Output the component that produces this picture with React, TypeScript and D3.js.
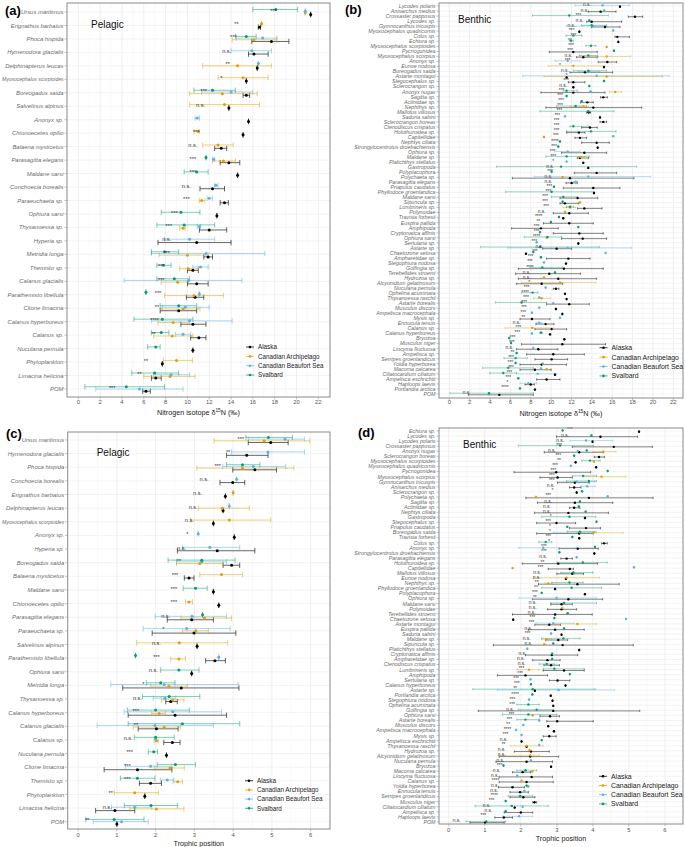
import React from "react";
import * as d3 from "d3";

type Est = number[] | null;
// [species, significance, label x (data units), Alaska, Canadian Archipelago, Canadian Beaufort Sea, Svalbard]
// each estimate: [mean] or [mean, lower, upper]
type Row = [string, string, number, Est, Est, Est, Est];

const regions = ["Alaska", "Canadian Archipelago", "Canadian Beaufort Sea", "Svalbard"];
const regionColors = ["#000000", "#E69F00", "#56B4E9", "#009E73"];
const nitrogenTicks = [0, 2, 4, 6, 8, 10, 12, 14, 16, 18, 20, 22];
const nitrogenMinor = [1, 3, 5, 7, 9, 11, 13, 15, 17, 19, 21];
const trophicTicks = [0, 1, 2, 3, 4, 5, 6];
const trophicMinor = [0.5, 1.5, 2.5, 3.5, 4.5, 5.5];

const pelagicN: Row[] = [
  ["Ursus maritimus", "***", 17.9, [21.3], [20.8], [20.8], [18.1, 16.0, 20.1]],
  ["Erignathus barbatus", "**", 14.5, [16.6, 16.5, 16.7], [16.8], null, null],
  ["Phoca hispida", "***", 14.2, [17.7, 15.9, 19.3], [16.1, 14.1, 18.2], [16.9, 14.5, 18.2], [15.4, 14.4, 16.3]],
  ["Hymenodora glacialis", "n.s.", 13.6, [16.1, 15.6, 17.4], null, [15.9, 14.0, 17.7], null],
  ["Delphinapterus leucas", "**", 13.7, [16.4], [14.6, 11.4, 17.7], [16.5], null],
  ["Myoxocephalus scorpioides", "*", 13.1, [15.4], [15.1, 12.8, 17.4], null, null],
  ["Boreogadus saida", "***", 11.5, [15.4, 15.1, 15.7], [13.2, 10.2, 16.4], [14.0, 11.3, 16.0], [12.3, 10.6, 14.4]],
  ["Salvelinus alpinus", "n.s.", 11.2, [13.8], [13.4, 10.2, 16.6], null, null],
  ["Anonyx sp.", "", 0, [15.6], null, [10.9, 10.7, 11.1], null],
  ["Chionoecetes opilio", "***", 10.8, [15.1], [11.0, 10.6, 11.1], null, null],
  ["Balaena mysticetus", "n.s.", 10.5, [13.1, 12.5, 13.6], [12.8, 11.4, 14.2], null, null],
  ["Parasagitta elegans", "***", 10.5, [13.8, 13.0, 14.8], [13.3, 12.3, 14.4], [12.4, 12.3, 12.5], [11.7]],
  ["Maldane sarsi", "***", 10.5, [14.6], null, null, [10.85, 9.7, 11.9]],
  ["Conchoecia borealis", "n.s.", 9.9, [12.3, 11.15, 13.4], null, [12.6, 12.5, 12.8], null],
  ["Paraeuchaeta sp.", "***", 9.9, [13.4, 13.0, 13.75], [11.3, 11.1, 11.6], [12.0, 11.8, 12.3], null],
  ["Ophiura sarsi", "***", 8.8, [12.7], null, null, [9.4, 7.6, 11.15]],
  ["Thysanoessa sp.", "***", 8.3, [12.0, 11.1, 13.6], [9.6, 9.3, 9.8], [11.1, 10.9, 11.2], [9.7, 7.2, 12.5]],
  ["Hyperia sp.", "n.s.", 8.1, [10.85, 7.3, 14.0], null, [10.2, 7.9, 12.5], null],
  ["Metridia longa", "***", 8.1, [11.9, 11.5, 12.3], [10.0, 7.4, 11.9], [11.7, 6.7, 17.1], [7.9, 6.7, 9.2]],
  ["Themisto sp.", "***", 7.6, [10.5, 10.0, 11.0], [10.1, 9.3, 11.0], [11.2, 10.5, 11.9], [7.8, 7.2, 8.5]],
  ["Calanus glacialis", "***", 7.6, [10.85, 10.0, 11.9], [9.1, 7.6, 10.1], [10.1, 4.2, 15.0], [8.8, 7.2, 10.2]],
  ["Parathemisto libellula", "***", 7.3, [10.7, 9.9, 11.5], [10.6, 7.9, 13.3], [11.1], [6.2]],
  ["Clione limacina", "**", 7.2, [9.2, 7.5, 10.85], [9.6, 7.6, 11.15], [9.8, 7.7, 12.0], [9.2, 7.5, 10.85]],
  ["Calanus hyperboreus", "****", 7.0, [10.5, 9.4, 11.7], [8.7, 7.3, 10.2], [10.2, 6.7, 14.1], [7.7, 5.1, 10.5]],
  ["Calanus sp.", "**", 6.9, [11.05, 10.3, 11.7], [8.6, 6.9, 10.5], [9.6, 8.9, 10.3], [7.6, 6.7, 8.3]],
  ["Nuculana pernula", "", 0, [10.5], null, null, [7.1, 6.35, 7.5]],
  ["Phytoplankton", "**", 6.2, [7.7], [9.0, 7.8, 10.45], null, null],
  ["Limacina helicina", "**", 5.6, [7.1, 6.7, 7.6], [8.4, 6.0, 10.7], [8.5, 6.9, 10.2], [7.0, 4.9, 9.2]],
  ["POM", "***", 3.1, [6.2, 5.9, 6.6], null, [5.6, 1.6, 9.6], [4.4, 0.6, 7.9]],
];

const benthicN: Row[] = [
  ["Lycodes polaris", "n.s.", 13.5, [16.76], null, [15.06, 12.34, 17.68], null],
  ["Anisarchus medius", "n.s.", 13.3, [14.86, 13.65, 16.37], null, [15.22], null],
  ["Crossaster papposus", "***", 12.67, [18.23, 17.58, 18.99], null, null, [11.78, 8.18, 15.61]],
  ["Lycodes sp.", "n.s.", 12.8, [13.98, 13.49, 16.92], null, null, [13.75]],
  ["Gymnocanthus tricuspis", "n.s.", 12.0, [15.29, 13.98, 16.76], null, [14.14, 11.52, 15.45], [13.98, 13.0, 15.45]],
  ["Myoxocephalus quadricornis", "***", 12.0, [12.77], null, [16.1], null],
  ["Colus sp.", "***", 12.18, [16.5, 16.27, 17.68], null, null, [12.18, 11.46, 13.0]],
  ["Echiura sp.", "**", 11.85, [16.6], null, null, [11.95, 11.78, 12.18]],
  ["Myoxocephalus scorpioides", "***", 11.95, null, [15.45], null, [13.91, 13.42, 14.4]],
  ["Pycnogonidea", "***", 11.85, [12.18, 9.82, 14.53], null, null, [16.17]],
  ["Myoxocephalus scorpius", "n.s.", 11.7, [13.16, 12.5, 14.53], [15.45, 12.83, 17.81], null, [13.65, 12.77, 14.57]],
  ["Anonyx sp.", "***", 11.62, [15.52, 14.63, 16.43], null, [11.62, 10.38, 12.83], null],
  ["Eunoe nodosa", "*", 10.87, [15.19], [12.18, 9.72, 15.29], null, null],
  ["Boreogadus saida", "n.s.", 11.36, [13.32, 11.85, 16.04], null, [13.75, 12.67, 14.73], [13.65, 12.18, 15.45]],
  ["Astarte montagui", "*", 11.52, [11.52], [15.45, 9.3, 20.95], [14.47, 7.2, 21.6], null],
  ["Stegocephalus sp.", "***", 11.46, [12.18, 11.69, 13.32], null, null, [15.19]],
  ["Sclerocrangon sp.", "n.s.", 11.19, [12.18], null, null, [13.75]],
  ["Anonyx nugax", "***", 11.03, [12.18, 9.0, 15.29], [16.3, 15.71, 16.92], [13.88], [11.52, 11.19, 12.57]],
  ["Sagitta sp.", "***", 10.87, [15.12, 14.86, 15.52], null, null, [11.52]],
  ["Actiniidae sp.", "***", 10.97, [13.55, 12.9, 14.14], null, null, [13.0]],
  ["Nephthys sp.", "***", 10.87, [14.14, 9.49, 18.89], [13.16, 11.85, 13.68], null, [12.41, 10.54, 13.49]],
  ["Mallotus villosus", "***", 10.8, [13.68, 13.49, 13.88], null, null, [13.65, 8.9, 16.17]],
  ["Saduria sabini", "***", 10.6, [14.8], null, [11.36], null],
  ["Sclerocrangon boreas", "***", 10.54, [15.12, 14.8, 15.45], null, null, null],
  ["Ctenodiscus crispatus", "***", 10.54, [13.82, 13.0, 14.53], null, null, [12.18, 11.85, 13.65]],
  ["Holothuroidea sp.", "***", 10.54, [12.73, 11.52, 13.32], null, null, [13.91, 11.52, 16.37]],
  ["Capitellidae", "***", 10.47, [12.83, 12.34, 13.49], [9.3], [16.1], null],
  ["Nephtys ciliata", "****", 10.38, [14.47, 13.0, 15.71], null, null, [10.87]],
  ["Strongylocentrotus droebachiensis", "***", 10.28, [14.57], null, null, [10.7]],
  ["Ophiura sp.", "***", 10.15, [13.26, 11.03, 15.45], null, [11.62, 10.38, 12.83], null],
  ["Maldane sp.", "***", 10.21, [12.83, 12.57, 13.68], [12.9, 12.6, 13.3], null, [11.52, 9.49, 13.75]],
  ["Platichthys stellatus", "*", 10.21, [13.16], null, [11.52], null],
  ["Gastropoda", "n.s.", 9.89, [13.65], null, null, [10.97, 4.65, 18.4]],
  ["Polyplacophora", "***", 9.89, [14.47, 12.27, 16.43], null, null, [10.05]],
  ["Polychaeta sp.", "n.s.", 9.72, [11.85, 6.19, 18.13], [11.13], [13.65, 8.35, 19.77], null],
  ["Parasagitta elegans", "n.s.", 9.72, [12.01, 11.46, 12.57], null, [12.41, 12.18, 12.6], null],
  ["Priapulus caudatus", "***", 9.82, [14.14, 11.19, 16.76], null, null, [10.28]],
  ["Phyllodoce groenlandica", "***", 9.72, [14.21], null, null, [10.05, 5.53, 14.21]],
  ["Maldane sarsi", "***", 9.4, [12.6, 10.87, 14.57], null, null, [11.19, 10.05, 12.6]],
  ["Sipuncula sp.", "***", 9.4, [11.36, 10.87, 12.67], [12.83], null, [11.13]],
  ["Lumbrineris sp.", "***", 9.5, [13.26, 12.6, 15.0], [11.85, 11.19, 12.41], null, [11.85, 11.5, 12.2]],
  ["Polynoidae", "n.s.", 9.07, [11.78, 10.21, 13.65], [11.36], null, null],
  ["Travisia forbesii", "****", 8.78, [11.19], null, null, [10.77]],
  ["Euspira pallida", "**", 8.74, [11.78, 9.24, 14.14], null, null, [9.98]],
  ["Amphipoda", "***", 8.58, [9.0, 6.12, 10.7], null, null, [12.67]],
  ["Cryptonatica affinis", "***", 8.58, [12.77, 10.21, 15.12], null, null, [8.9]],
  ["Ophiura sarsi", "****", 8.58, [13.1, 11.03, 15.45], [9.56], null, [9.65, 7.36, 11.03]],
  ["Sertularia sp.", "***", 8.35, [12.67], null, [8.58], null],
  ["Astarte sp.", "n.s.", 8.84, [10.54, 9.17, 12.01], null, [11.62, 5.79, 17.9], [8.9, 3.08, 14.73]],
  ["Chaetozone setosa", "***", 8.41, [7.53], null, [15.35], [8.25]],
  ["Ampharetidae sp.", "***", 7.99, [11.69, 9.56, 13.82], null, null, [9.0]],
  ["Stegophiura nodosa", "***", 7.92, [11.46], null, [9.3], null],
  ["Golfingia sp.", "****", 7.92, [11.26, 6.78, 15.12], null, null, [9.13, 7.92, 11.13]],
  ["Terebellides stroemi", "n.s.", 7.59, [9.82, 6.51, 12.9], null, null, [10.38]],
  ["Hydrozoa sp.", "n.s.", 7.59, [10.7, 6.78, 14.47], [9.3], null, null],
  ["Alcyonidium gelatinosum", "*", 7.85, [9.07, 6.61, 11.13], [10.87, 7.1, 14.4], null, null],
  ["Nuculana pernula", "***", 7.59, [10.47, 10.21, 10.77], null, [9.46], null],
  ["Ophelina acuminata", "****", 7.46, [11.36], null, null, [8.18, 7.1, 8.71]],
  ["Thysanoessa raschii", "***", 7.53, [11.52], [9.07, 8.25, 9.89], [8.84], null],
  ["Astarte borealis", "***", 7.36, [11.78, 9.56, 13.75], null, [10.21], [7.1, 4.55, 9.56]],
  ["Musculus discors", "***", 7.33, [10.47], null, [8.84], null],
  ["Ampelisca macrocephala", "***", 7.27, [11.1], null, [8.12], null],
  ["Mysis sp.", "**", 7.27, [8.12, 6.94, 9.89], null, [10.87], null],
  ["Ennucula tenuis", "n.s.", 6.61, [9.46, 8.51, 10.28], null, [8.84, 8.6, 9.1], null],
  ["Calanus sp.", "***", 6.78, [10.05, 8.41, 11.52], [8.15, 5.47, 10.21], null, null],
  ["Calanus hyperboreus", "***", 6.68, [9.89], null, [8.12], [9.0, 8.9, 9.13]],
  ["Bryozoa", "***", 6.22, [11.3], null, null, [5.89]],
  ["Musculus niger", "***", 6.15, [11.1, 7.1, 15.35], null, null, [6.06]],
  ["Liocyma fluctuosa", "n.s.", 5.89, [8.74, 6.61, 10.67], null, [8.25], null],
  ["Ampelisca sp.", "**", 6.22, [10.21, 7.59, 13.26], null, null, [6.61]],
  ["Serripes groenlandicus", "***", 6.06, [10.05, 8.41, 11.62], null, null, [6.51, 5.37, 7.66]],
  ["Yoldia hyperborea", "***", 6.0, [9.07, 6.94, 11.52], null, [9.2], [6.51]],
  ["Macoma calcarea", "***", 6.06, [8.41, 6.94, 10.0], [9.56], [9.0], [5.79, 3.27, 8.25]],
  ["Ciliatocardium ciliatum", "***", 5.89, [10.38], null, [8.68, 6.61, 10.54], [5.3, 3.99, 6.61]],
  ["Ampelisca eschrichtii", "***", 5.79, [9.56, 8.58, 10.87], null, null, [6.78]],
  ["Haploops laevis", "*", 5.7, [7.99, 7.43, 8.35], null, [7.76, 6.94, 8.58], null],
  ["Portlandia arctica", "****", 5.47, [8.41], null, null, [6.94]],
  ["POM", "n.s.", 1.7, [4.91, 1.87, 8.25], null, [3.9], [3.9, 0.07, 8.25]],
];

const pelagicTP: Row[] = [
  ["Ursus maritimus", "***", 4.2, [4.97, 4.39, 5.42], [4.8, 3.51, 5.98], [5.34, 4.39, 5.84], [4.91, 4.33, 5.53]],
  ["Hymenodora glacialis", "**", 3.87, [4.35, 3.83, 4.9], null, [4.9, 3.96, 5.84], null],
  ["Phoca hispida", "***", 3.6, [4.56, 3.99, 5.12], [4.24, 3.06, 5.57], [4.52, 3.73, 5.36], [4.24, 3.83, 4.69]],
  ["Conchoecia borealis", "n.s.", 3.25, [3.99, 3.66, 4.3], null, [4.09], null],
  ["Erignathus barbatus", "n.s.", 3.08, [3.8], [4.0], null, null],
  ["Delphinapterus leucas", "n.s.", 2.97, [3.74], [3.72, 3.1, 4.42], [3.9], null],
  ["Myoxocephalus scorpioides", "n.s.", 2.87, [3.49], [3.9, 2.91, 4.97], null, null],
  ["Anonyx sp.", "*", 2.82, [4.03], null, [3.1], null],
  ["Hyperia sp.", "n.s.", 2.67, [3.59, 2.56, 4.56], null, [3.4, 2.69, 4.17], null],
  ["Boreogadus saida", "**", 2.6, [3.96, 3.74, 4.17], [3.14, 2.54, 3.74], [3.19, 2.54, 3.83], [3.19, 2.32, 4.05]],
  ["Balaena mysticetus", "***", 2.5, [2.86, 2.74, 2.99], [3.7, 3.14, 4.24], null, null],
  ["Maldane sarsi", "***", 2.47, [3.49], null, null, [3.03, 2.71, 3.33]],
  ["Chionoecetes opilio", "***", 2.47, [3.63], [2.86, 2.77, 2.95], null, null],
  ["Parasagitta elegans", "n.s.", 2.26, [2.93, 2.3, 3.49], [3.26, 2.65, 3.96], [2.94, 1.99, 3.83], [3.21]],
  ["Paraeuchaeta sp.", "*", 2.2, [2.99, 1.91, 4.07], [3.04, 2.69, 3.36], [2.8, 1.68, 3.92], null],
  ["Salvelinus alpinus", "n.s.", 2.02, [3.07], [2.61, 1.51, 3.86], null, null],
  ["Parathemisto libellula", "***", 2.02, [3.53, 3.29, 3.8], [2.6, 2.39, 2.77], [3.63], [1.48]],
  ["Ophiura sarsi", "n.s.", 1.94, [2.93], null, null, [2.6, 2.13, 3.12]],
  ["Metridia longa", "*", 1.68, [2.66, 1.15, 4.15], [2.34, 1.87, 2.82], [2.22, 0.84, 4.13], [2.13, 1.76, 2.5]],
  ["Thysanoessa sp.", "n.s.", 1.53, [2.39, 2.26, 2.56], [2.44, 2.15, 2.73], [2.24, 1.94, 2.52], [2.35, 1.66, 3.14]],
  ["Calanus hyperboreus", "***", 1.49, [2.5, 1.29, 3.83], [2.09, 1.9, 2.25], [2.44, 1.19, 3.7], [2.0, 1.27, 2.87]],
  ["Calanus glacialis", "**", 1.49, [2.02, 1.55, 2.58], [2.22, 1.42, 2.64], [1.98, 0.49, 3.49], [2.69, 1.29, 4.17]],
  ["Calanus sp.", "n.s.", 1.29, [2.43, 2.21, 2.63], [2.02, 1.96, 2.07], [2.0], [2.0, 1.45, 2.48]],
  ["Nuculana pernula", "***", 1.33, [2.28], null, null, [1.95, 1.81, 2.05]],
  ["Clione limacina", "***", 1.27, [1.53, 0.67, 2.42], [2.37, 1.96, 2.74], [1.87, 1.22, 2.42], [2.51, 2.04, 3.03]],
  ["Themisto sp.", "***", 1.27, [1.87, 1.58, 2.15], [2.57, 2.45, 2.69], [2.3, 2.13, 2.47], [1.53, 1.09, 1.98]],
  ["Phytoplankton", "**", 0.84, [1.72], [1.46, 0.93, 2.07], null, null],
  ["Limacina helicina", "n.s.", 0.75, [0.95, 0.45, 1.46], [2.02, 1.33, 2.73], [1.46, 0.86, 1.9], [1.88, 1.19, 2.56]],
  ["POM", "**", 0.23, [1.0], null, [1.12, 0.39, 1.81], [0.93, 0.2, 1.7]],
];

const benthicTP: Row[] = [
  ["Echiura sp.", "***", 3.36, [5.28], null, null, [3.16]],
  ["Lycodes sp.", "n.s.", 3.23, [4.21, 2.99, 5.24], null, null, [3.96]],
  ["Lycodes polaris", "n.s.", 3.09, [3.99], null, [3.81, 3.36, 4.55], null],
  ["Crossaster papposus", "***", 3.06, [4.58, 3.43, 5.65], null, null, [3.09, 1.93, 4.01]],
  ["Anonyx nugax", "n.s.", 2.86, [3.62, 2.65, 4.29], [4.29, 4.01, 4.64], [3.58], [3.83]],
  ["Sclerocrangon boreas", "***", 3.04, [4.17, 4.04, 4.32], null, null, [3.48]],
  ["Myoxocephalus scorpioides", "**", 3.06, [3.52], [4.03], null, [3.92, 3.69, 4.2]],
  ["Myoxocephalus quadricornis", "***", 2.95, [4.09], null, [3.39], null],
  ["Pycnogonidea", "***", 2.9, [2.98, 1.81, 3.94], null, null, [4.41]],
  ["Myoxocephalus scorpius", "***", 2.86, [3.02, 2.53, 3.43], [4.24, 3.73, 4.91], null, [3.73, 3.43, 4.1]],
  ["Gymnocanthus tricuspis", "***", 2.86, [3.5, 3.02, 3.9], null, [3.55, 3.06, 4.06], [3.89, 3.27, 4.1]],
  ["Anisarchus medius", "n.s.", 2.83, [3.48, 3.35, 3.67], null, [3.84, 3.67, 4.06], null],
  ["Sclerocrangon sp.", "*", 2.88, [3.55], null, null, [3.7]],
  ["Polychaeta sp.", "***", 2.76, [3.89, 2.14, 5.67], [2.42], [4.41], null],
  ["Sagitta sp.", "n.s.", 2.76, [3.5, 2.46, 4.55], null, null, [3.64]],
  ["Actiniidae sp.", "n.s.", 2.72, [3.48, 3.35, 3.64], null, null, [3.61]],
  ["Nephtys ciliata", "n.s.", 2.72, [3.32, 2.38, 4.43], null, null, [3.8]],
  ["Gastropoda", "*", 2.83, [3.78], null, null, [3.35, 2.58, 4.08]],
  ["Stegocephalus sp.", "***", 2.76, [2.99, 2.44, 3.52], null, null, [4.1]],
  ["Priapulus caudatus", "*", 2.81, [3.81, 3.35, 4.21], null, null, [3.29]],
  ["Boreogadus saida", "*", 2.81, [3.62, 2.44, 4.01], [4.01, 3.55, 4.84], [3.64, 2.9, 4.1], [3.64, 3.29, 4.06]],
  ["Travisia forbesii", "***", 2.76, [3.62], null, null, [3.43]],
  ["Colus sp.", "*", 2.79, [4.31, 4.24, 4.4], null, null, [2.69, 2.5, 2.86]],
  ["Anonyx sp.", "***", 2.64, [3.58, 3.06, 4.15], null, [2.62, 1.95, 4.06], [4.06]],
  ["Strongylocentrotus droebachiensis", "***", 2.64, [4.04], null, null, [3.07]],
  ["Parasagitta elegans", "n.s.", 2.62, [3.27, 3.11, 3.43], null, [3.55], null],
  ["Holothuroidea sp.", "**", 2.6, [3.04, 2.04, 4.13], null, null, [3.72, 3.0, 4.4]],
  ["Capitellidae", "***", 2.55, [3.36, 2.76, 3.46], [1.77], [5.14], null],
  ["Mallotus villosus", "n.s.", 2.45, [3.43, 3.0, 3.74], null, null, [3.46, 3.11, 4.0]],
  ["Eunoe nodosa", "n.s.", 2.44, [3.25], [3.27, 2.35, 4.18], null, null],
  ["Nephthys sp.", "**", 2.44, [3.57, 2.49, 4.73], [2.76, 2.67, 2.86], null, [3.35, 2.86, 3.73]],
  ["Phyllodoce groenlandica", "**", 2.42, [2.95], null, null, [3.41, 2.58, 4.24]],
  ["Polyplacophora", "***", 2.39, [3.78], null, null, [2.58]],
  ["Ophiura sp.", "**", 2.39, [3.32, 2.32, 4.27], null, [2.99, 1.95, 4.09], null],
  ["Maldane sarsi", "n.s.", 2.33, [3.13, 2.83, 3.43], null, null, [3.2, 2.83, 4.1]],
  ["Polynoidae", "n.s.", 2.33, [3.13, 2.74, 3.55], [3.15], null, null],
  ["Terebellides stroemi", "n.s.", 2.3, [2.95, 1.77, 3.98], null, null, [3.3]],
  ["Chaetozone setosa", "***", 2.32, [1.79], null, [4.92], [2.93]],
  ["Astarte montagui", "***", 2.3, [2.79, 2.39, 3.1], [3.57, 2.9, 4.1], [2.9, 2.42, 3.46], null],
  ["Euspira pallida", "n.s.", 2.21, [2.95, 2.21, 3.76], null, null, [3.2]],
  ["Saduria sabini", "***", 2.19, [3.13], null, [2.84], null],
  ["Maldane sp.", "n.s.", 2.16, [3.04, 2.69, 3.3], [2.72, 2.58, 2.86], null, [3.18, 2.58, 3.64]],
  ["Sipuncula sp.", "n.s.", 2.21, [3.16, 1.24, 5.12], [2.65], null, [2.9]],
  ["Platichthys stellatus", "", 0, [3.62], null, [2.18], null],
  ["Cryptonatica affinis", "n.s.", 2.04, [2.86, 2.13, 3.58], null, null, [2.87]],
  ["Ampharetidae sp.", "n.s.", 2.0, [2.74, 2.33, 3.09], null, null, [2.87]],
  ["Ctenodiscus crispatus", "n.s.", 2.02, [2.84, 2.64, 3.07], null, null, [2.72, 2.51, 2.93]],
  ["Lumbrineris sp.", "***", 2.02, [3.2, 2.62, 3.76], [2.23, 1.89, 2.51], null, [2.93, 2.62, 3.76]],
  ["Amphipoda", "***", 1.98, [2.13, 1.35, 2.74], null, null, [3.36]],
  ["Sertularia sp.", "***", 1.87, [3.02, 2.79, 3.36], null, [2.27], null],
  ["Calanus hyperboreus", "***", 1.89, [3.24], null, null, [2.28]],
  ["Astarte sp.", "**", 1.84, [2.39], null, [3.05, 1.35, 4.59], [2.33, 0.67, 4.06]],
  ["Portlandia arctica", "****", 1.84, [2.83], null, null, [2.32]],
  ["Stegophiura nodosa", "***", 1.77, [2.88], null, [2.23], null],
  ["Ophelina acuminata", "***", 1.76, [2.9], null, null, [2.21, 1.89, 2.51]],
  ["Golfingia sp.", "n.s.", 1.7, [2.9, 0.82, 5.3], null, null, [2.44, 1.93, 2.9]],
  ["Ophiura sarsi", "***", 1.74, [2.81, 2.53, 3.07], [2.33], null, [2.21, 1.49, 3.0]],
  ["Astarte borealis", "***", 1.68, [3.01, 2.72, 4.01], null, [2.51], [2.13, 1.89, 2.51]],
  ["Musculus discors", "**", 1.65, [2.76], null, [2.07], null],
  ["Ampelisca macrocephala", "****", 1.63, [2.92], null, [1.87], null],
  ["Mysis sp.", "***", 1.58, [2.79, 2.62, 2.98], null, [2.02], null],
  ["Ampelisca eschrichtii", "n.s.", 1.52, [2.02], null, null, [2.58]],
  ["Thysanoessa raschii", "**", 1.52, [2.16], [2.16, 1.72, 2.62], [2.51], null],
  ["Hydrozoa sp.", "n.s.", 1.47, [2.28, 1.82, 2.79], [2.24], null, null],
  ["Alcyonidium gelatinosum", "n.s.", 1.47, [2.26, 1.4, 3.05], [2.26, 1.4, 2.51], null, null],
  ["Nuculana pernula", "n.s.", 1.43, [2.16, 1.31, 2.88], null, [2.28], null],
  ["Bryozoa", "***", 1.41, [2.84], null, null, [1.52]],
  ["Macoma calcarea", "n.s.", 1.33, [2.05, 1.77, 2.27], [2.32], [2.13], [2.13, 1.89, 2.44]],
  ["Liocyma fluctuosa", "n.s.", 1.28, [2.3, 1.4, 2.88], null, [1.9], null],
  ["Calanus sp.", "****", 1.3, [2.16, 1.4, 2.9], [2.02], null, null],
  ["Yoldia hyperborea", "n.s.", 1.28, [1.77, 1.38, 2.1], null, [2.21], [2.16]],
  ["Ennucula tenuis", "n.s.", 1.26, [1.98, 1.7, 2.21], null, [2.1], null],
  ["Serripes groenlandicus", "****", 1.26, [2.07, 1.7, 2.39], null, null, [1.98, 1.65, 2.33]],
  ["Musculus niger", "***", 1.19, [2.38, 2.33, 2.44], null, null, [1.58]],
  ["Ciliatocardium ciliatum", "n.s.", 1.05, [1.83], null, [2.05], [1.75, 0.73, 2.76]],
  ["Ampelisca sp.", "n.s.", 1.1, [2.0, 1.54, 2.33], null, null, [1.58]],
  ["Haploops laevis", "***", 0.96, [1.53, 1.28, 1.77], null, [1.95, 1.5, 2.33], null],
  ["POM", "n.s.", 0.22, [1.01, 0.59, 1.54], null, null, [1.04, 0.48, 1.58]],
];

const FONT = "'Liberation Sans', Arial, Helvetica, sans-serif";

type PanelCfg = {
  rows: Row[];
  px: [number, number];
  py: [number, number];
  rowsY: [number, number];
  domain: [number, number];
  ticks: number[];
  minor: number[];
  tickLabelY: number;
  titleY: number;
  isotope: boolean;
  letter: string;
  letterPos: [number, number];
  habitat: string;
  habitatPos: [number, number];
  legendX: number;
  legendY: number;
  legendStep: number;
  legendFont: number;
  labelFont: number;
  sigFont: number;
  pointR: number;
  barW: number;
};

function Panel({ c }: { c: PanelCfg }) {
  const x = d3.scaleLinear().domain(c.domain).range(c.px);
  const idx = c.rows.map((_, i) => String(i));
  const y = d3.scalePoint<string>().domain(idx).range(c.rowsY);
  const step = y.step();
  const dodgeW = 0.5 * step;
  const capH = Math.max(0.4 * step, 2.4);
  const [x0, x1] = c.px;
  const [y0, y1] = c.py;
  const labelRoom = x0 - 4.5;

  const marks: React.ReactNode[] = [];
  const points: React.ReactNode[] = [];
  c.rows.forEach((r, i) => {
    const cy = y(String(i)) as number;
    const present = [3, 4, 5, 6].map((k, g) => ({ g, e: r[k] as Est })).filter((d) => d.e);
    const n = present.length;
    present.forEach((d, j) => {
      const off = ((j + 0.5) / n - 0.5) * dodgeW;
      const yy = cy - off;
      const e = d.e as number[];
      const m = e[0];
      const lo = e.length > 1 ? e[1] : m;
      const hi = e.length > 1 ? e[2] : m;
      const col = regionColors[d.g];
      marks.push(
        <g key={`e${i}-${d.g}`} stroke={col} strokeOpacity={d.g === 0 ? 0.6 : 0.5} strokeWidth={c.barW}>
          <line x1={x(lo)} x2={x(hi)} y1={yy} y2={yy} />
          <line x1={x(lo)} x2={x(lo)} y1={yy - capH / 2} y2={yy + capH / 2} />
          <line x1={x(hi)} x2={x(hi)} y1={yy - capH / 2} y2={yy + capH / 2} />
        </g>
      );
      points.push(<circle key={`p${i}-${d.g}`} cx={x(m)} cy={yy} r={c.pointR} fill={col} />);
    });
  });

  return (
    <g fontFamily={FONT}>
      <rect x={x0} y={y0} width={x1 - x0} height={y1 - y0} fill="#fff" />
      {c.minor.map((t) => (
        <line key={`mn${t}`} x1={x(t)} x2={x(t)} y1={y0} y2={y1} stroke="#F2F2F2" strokeWidth={0.5} />
      ))}
      {c.ticks.map((t) => (
        <line key={`mj${t}`} x1={x(t)} x2={x(t)} y1={y0} y2={y1} stroke="#EBEBEB" strokeWidth={0.8} />
      ))}
      {idx.map((k) => (
        <line key={`h${k}`} x1={x0} x2={x1} y1={y(k)} y2={y(k)} stroke="#EBEBEB" strokeWidth={0.6} />
      ))}
      {marks}
      {points}
      {c.rows.map((r, i) =>
        r[1] ? (
          <text
            key={`s${i}`}
            x={x(r[2])}
            y={(y(String(i)) as number) + c.sigFont * 0.1}
            fontSize={c.sigFont}
            textAnchor="middle"
            fill="#333"
          >
            {r[1]}
          </text>
        ) : null
      )}
      <rect x={x0} y={y0} width={x1 - x0} height={y1 - y0} fill="none" stroke="#8a8a8a" strokeWidth={1} />
      {c.rows.map((r, i) => {
        const est = r[0].length * 0.47 * c.labelFont;
        const squeeze = est > labelRoom;
        return (
          <g key={`yl${i}`}>
            <line x1={x0 - 2.5} x2={x0} y1={y(String(i))} y2={y(String(i))} stroke="#999" strokeWidth={0.6} />
            <text
              x={x0 - 3.5}
              y={(y(String(i)) as number) + c.labelFont * 0.35}
              fontSize={c.labelFont}
              fontStyle="italic"
              textAnchor="end"
              fill="#6b6b6b"
              textLength={squeeze ? labelRoom - 1 : undefined}
              lengthAdjust={squeeze ? "spacingAndGlyphs" : undefined}
            >
              {r[0]}
            </text>
          </g>
        );
      })}
      {c.ticks.map((t) => (
        <g key={`xt${t}`}>
          <line x1={x(t)} x2={x(t)} y1={y1} y2={y1 + 2.5} stroke="#999" strokeWidth={0.6} />
          <text x={x(t)} y={c.tickLabelY} fontSize={5.8} textAnchor="middle" fill="#555">
            {t}
          </text>
        </g>
      ))}
      <text x={(x0 + x1) / 2} y={c.titleY} fontSize={7.2} textAnchor="middle" fill="#222">
        {c.isotope ? (
          <>
            {"Nitrogen isotope δ"}
            <tspan dy={-2.6} fontSize={4.8}>15</tspan>
            <tspan dy={2.6}>{"N (‰)"}</tspan>
          </>
        ) : (
          "Trophic position"
        )}
      </text>
      {regions.map((name, g) => {
        const ly = c.legendY + g * c.legendStep;
        return (
          <g key={`lg${g}`}>
            <line x1={c.legendX - 4} x2={c.legendX + 4} y1={ly} y2={ly} stroke={regionColors[g]} strokeOpacity={0.8} strokeWidth={0.9} />
            <circle cx={c.legendX} cy={ly} r={1.3} fill={regionColors[g]} />
            <text x={c.legendX + 8} y={ly + c.legendFont * 0.35} fontSize={c.legendFont} fill="#222">
              {name}
            </text>
          </g>
        );
      })}
      <text x={c.letterPos[0]} y={c.letterPos[1]} fontSize={13} fontWeight="bold" fill="#000">
        {c.letter}
      </text>
      <text x={c.habitatPos[0]} y={c.habitatPos[1]} fontSize={10} fill="#111">
        {c.habitat}
      </text>
    </g>
  );
}

const panels: PanelCfg[] = [
  {
    rows: pelagicN, px: [67, 330], py: [3, 397], rowsY: [12, 389], domain: [-1.04, 23.07],
    ticks: nitrogenTicks, minor: nitrogenMinor, tickLabelY: 404, titleY: 414.5, isotope: true,
    letter: "(a)", letterPos: [5, 15], habitat: "Pelagic", habitatPos: [91, 27.5],
    legendX: 250, legendY: 347, legendStep: 9.35, legendFont: 6.3, labelFont: 5.9, sigFont: 5.6, pointR: 1.5, barW: 1,
  },
  {
    rows: benthicN, px: [439, 683], py: [3, 398], rowsY: [6, 394], domain: [-1.01, 22.95],
    ticks: nitrogenTicks, minor: nitrogenMinor, tickLabelY: 404, titleY: 415.5, isotope: true,
    letter: "(b)", letterPos: [345, 14], habitat: "Benthic", habitatPos: [458, 23],
    legendX: 603.5, legendY: 347.7, legendStep: 9.4, legendFont: 6.9, labelFont: 5.3, sigFont: 4.8, pointR: 1.2, barW: 0.8,
  },
  {
    rows: pelagicTP, px: [67.7, 330], py: [432, 829], rowsY: [440, 821.7], domain: [-0.27, 6.5],
    ticks: trophicTicks, minor: trophicMinor, tickLabelY: 837, titleY: 846, isotope: false,
    letter: "(c)", letterPos: [6, 437.5], habitat: "Pelagic", habitatPos: [96.7, 456],
    legendX: 249, legendY: 780.7, legendStep: 9.2, legendFont: 6.3, labelFont: 5.9, sigFont: 5.6, pointR: 1.5, barW: 1,
  },
  {
    rows: benthicTP, px: [439, 683], py: [428, 824], rowsY: [431, 822], domain: [-0.27, 6.5],
    ticks: trophicTicks, minor: trophicMinor, tickLabelY: 831.5, titleY: 840.5, isotope: false,
    letter: "(d)", letterPos: [358, 437], habitat: "Benthic", habitatPos: [463, 447.5],
    legendX: 603, legendY: 776.3, legendStep: 9.2, legendFont: 6.9, labelFont: 5.3, sigFont: 4.8, pointR: 1.2, barW: 0.8,
  },
];

export default function App() {
  return (
    <svg
      width={685}
      height={847}
      viewBox="0 0 685 847"
      style={{ position: "absolute", left: 0, top: 0, background: "#fff" }}
    >
      <rect width={685} height={847} fill="#fff" />
      {panels.map((p) => (
        <Panel key={p.letter} c={p} />
      ))}
    </svg>
  );
}
